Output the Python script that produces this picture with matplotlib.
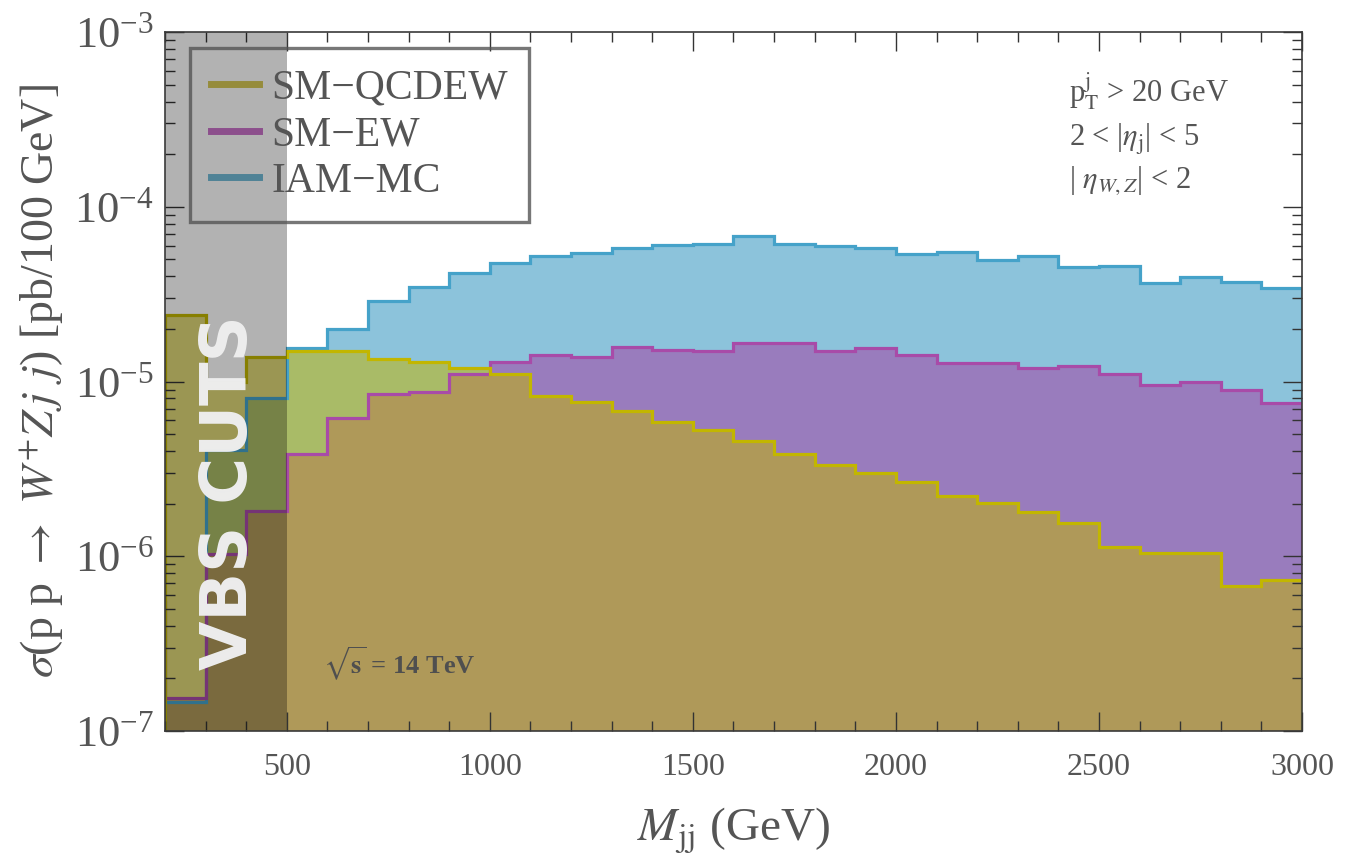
import numpy as np
import matplotlib
matplotlib.use("Agg")
import matplotlib.pyplot as plt
from matplotlib.lines import Line2D
from matplotlib.ticker import LogLocator, MultipleLocator, NullFormatter

plt.rcParams['font.family'] = ['Liberation Serif', 'DejaVu Serif']
plt.rcParams['mathtext.fontset'] = 'stix'

# ================== data (pb / 100 GeV) ==================
edges = np.arange(200, 3001, 100)
qcdew = [2.41e-5, 1.0e-5, 1.39e-5, 1.50e-5, 1.49e-5, 1.34e-5, 1.30e-5, 1.19e-5,
         1.10e-5, 8.3e-6, 7.6e-6, 6.8e-6, 5.83e-6, 5.25e-6, 4.54e-6, 3.83e-6,
         3.31e-6, 2.98e-6, 2.65e-6, 2.20e-6, 2.01e-6, 1.78e-6, 1.54e-6, 1.13e-6,
         1.05e-6, 1.05e-6, 6.8e-7, 7.3e-7]
# first EW bin is 100-200 (only its right edge is visible)
ew_edges = np.arange(100, 3001, 100)
ew = [5.45e-7, 1.55e-7, 1.03e-6, 1.81e-6, 3.83e-6, 6.22e-6, 8.53e-6, 8.7e-6, 1.10e-5,
      1.29e-5, 1.41e-5, 1.39e-5, 1.58e-5, 1.52e-5, 1.49e-5, 1.67e-5, 1.67e-5,
      1.50e-5, 1.55e-5, 1.41e-5, 1.27e-5, 1.27e-5, 1.20e-5, 1.22e-5, 1.11e-5,
      9.6e-6, 9.9e-6, 8.9e-6, 7.58e-6]
iam = [1.47e-7, 4.08e-6, 8.1e-6, 1.56e-5, 2.01e-5, 2.87e-5, 3.49e-5, 4.2e-5,
       4.78e-5, 5.25e-5, 5.46e-5, 5.83e-5, 6.07e-5, 6.15e-5, 6.83e-5, 6.15e-5,
       5.98e-5, 5.83e-5, 5.38e-5, 5.53e-5, 4.98e-5, 5.25e-5, 4.54e-5, 4.6e-5,
       3.68e-5, 3.98e-5, 3.72e-5, 3.44e-5]
labels = ['SM\u2212QCDEW', 'SM\u2212EW', 'IAM\u2212MC']

# ================== styles ==================
txt = '#555555'
c_fill = {'iam': ((63/255, 155/255, 195/255), 0.6),
          'ew': ((162/255, 78/255, 169/255), 0.6),
          'qcd': ((195/255, 180/255, 0.0), 0.53)}
c_line = {'iam': '#45A2C9', 'ew': '#A84BA8', 'qcd': '#C2B600'}
c_leg = ['#968C3C', '#8C4F8C', '#4F8296']
base = 1e-9

fig = plt.figure(figsize=(13.45, 8.65), dpi=100)
ax = fig.add_axes([0.1227, 0.1549, 0.8453, 0.8081])

ax.stairs(iam, edges, baseline=base, fill=True, color=c_fill['iam'][0], alpha=c_fill['iam'][1], lw=0)
ax.stairs(ew, ew_edges, baseline=base, fill=True, color=c_fill['ew'][0], alpha=c_fill['ew'][1], lw=0)
ax.stairs(qcdew, edges, baseline=base, fill=True, color=c_fill['qcd'][0], alpha=c_fill['qcd'][1], lw=0)
ax.stairs(iam, edges, baseline=base, color=c_line['iam'], lw=2.3)
ax.stairs(ew, ew_edges, baseline=base, color=c_line['ew'], lw=2.3)
ax.stairs(qcdew, edges, baseline=base, color=c_line['qcd'], lw=2.3)

# VBS cut region
ax.axvspan(200, 500, color='black', alpha=0.3, lw=0, zorder=5)
ax.text(357, 2.32e-6, 'VBS CUTS', rotation=90, ha='center', va='center',
        fontsize=46, fontweight='bold', family=['DejaVu Sans'], color='#EDEDED', zorder=6)

ax.set_yscale('log')
ax.set_xlim(200, 3000)
ax.set_ylim(1e-7, 1e-3)

ax.xaxis.set_major_locator(MultipleLocator(500))
ax.xaxis.set_minor_locator(MultipleLocator(100))
ax.yaxis.set_major_locator(LogLocator(base=10, numticks=10))
ax.yaxis.set_minor_locator(LogLocator(base=10, subs=np.arange(2, 10), numticks=20))
ax.yaxis.set_minor_formatter(NullFormatter())
ax.tick_params(which='both', direction='in', top=True, right=True, color='#333333', width=1.0)
ax.tick_params(which='major', length=14)
ax.tick_params(which='minor', length=7)
ax.tick_params(axis='x', labelsize=23, labelcolor=txt, pad=16)
ax.tick_params(axis='y', labelsize=32, labelcolor=txt, pad=8)
for s in ax.spines.values():
    s.set_color('#3a3a3a')
    s.set_linewidth(1.2)
    s.set_zorder(10)

ax.set_xlabel(r'$M_{\rm jj}$ (GeV)', fontsize=34, color=txt, labelpad=17)
ax.set_ylabel(r'$\sigma$(p p $\rightarrow$ $W^{+}Z\,j\;\,j$) [pb/100 GeV]',
              fontsize=33, color=txt, labelpad=6)

# cuts
ax.text(0.795, 0.914, r'p$_{\rm T}^{\rm j}$ > 20 GeV', transform=ax.transAxes,
        fontsize=22, color=txt, va='center', ha='left')
ax.text(0.795, 0.847, r'2 < |$\eta_{\rm j}$| < 5', transform=ax.transAxes,
        fontsize=22, color=txt, va='center', ha='left')
ax.text(0.795, 0.787, r'| $\eta_{W,Z}$| < 2', transform=ax.transAxes,
        fontsize=22, color=txt, va='center', ha='left')
ax.text(589, 2.41e-7, r'$\sqrt{\mathbf{s}}$ = 14 TeV', fontsize=19, fontweight='bold',
        color='#4f4f4f', va='center', ha='left', zorder=6)

handles = [Line2D([], [], color=c, lw=5) for c in c_leg]
leg = ax.legend(handles, labels, loc='upper left', bbox_to_anchor=(0.022, 0.977),
                borderaxespad=0, fontsize=30, frameon=True, fancybox=False,
                handlelength=1.15, handletextpad=0.3, labelspacing=0.2,
                borderpad=0.5, labelcolor=txt)
leg.get_frame().set_edgecolor('#555555')
leg.get_frame().set_linewidth(2.4)
leg.get_frame().set_facecolor('none')
leg.set_zorder(20)

fig.savefig('out.png', dpi=100)
